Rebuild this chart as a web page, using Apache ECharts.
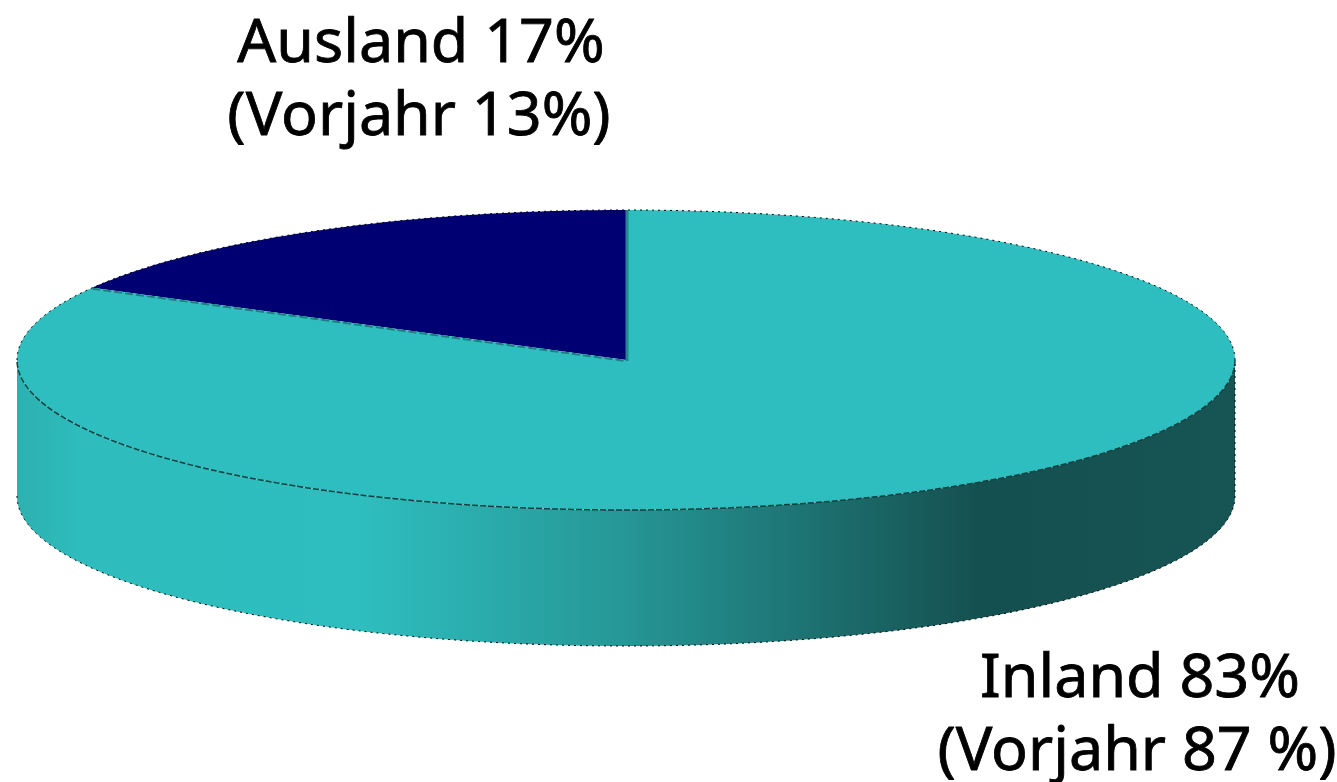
<!DOCTYPE html>
<html>
<head>
<meta charset="utf-8">
<style>
  html, body { margin: 0; padding: 0; background: #fff; }
  #chart { width: 1337px; height: 782px; }
</style>
<script src="https://cdn.jsdelivr.net/npm/echarts@6/dist/echarts.min.js"></script>
</head>
<body>
<div id="chart"></div>
<script>
// Anteil Umsatz, aus dem Bild gelesen
var categories = ['Ausland', 'Inland'];
var values = [17, 83];
var prevValues = [13, 87];
var prevSuffix = ['%', ' %'];
var colors = ['#000073', '#2fbebf'];

// ellipse of the disc
var disc = { cx: 626, cy: 360, rx: 609, ry: 150, depth: 136 };
// where the two text blocks go
var labelPos = [
  { x: 421, y: 45, x2: 419, y2: 118 },
  { x: 1140, y: 680, x2: 1137, y2: 753 }
];
var FONT = '61px "Noto Sans"';

var total = values[0] + values[1];

// angle: 0 = 12 o'clock, counted clockwise
function pt(deg, dy) {
  var a = deg * Math.PI / 180;
  return [disc.cx + disc.rx * Math.sin(a), disc.cy - disc.ry * Math.cos(a) + (dy || 0)];
}
function arc(from, to, dy) {
  var pts = [], n = Math.ceil(Math.abs(to - from) * 2);
  for (var i = 0; i <= n; i++) pts.push(pt(from + (to - from) * i / n, dy));
  return pts;
}

function renderItem(params, api) {
  var idx = params.dataIndex;
  var val = api.value(0);
  var prev = api.value(1);
  // Ausland runs counter clockwise from the top, Inland fills the rest
  var start = idx === 0 ? -val / total * 360 : 0;
  var end = idx === 0 ? 0 : val / total * 360;
  var topPts = [[disc.cx, disc.cy]].concat(arc(start, end));
  var children = [];

  if (idx === 1) {
    // side wall, only the front half can be seen
    var side = arc(90, 270).concat(arc(270, 90, disc.depth));
    children.push({
      type: 'polygon',
      shape: { points: side },
      style: {
        fill: new echarts.graphic.LinearGradient(disc.cx - disc.rx, 0, disc.cx + disc.rx, 0, [
          { offset: 0, color: '#2db0b0' },
          { offset: 0.05, color: '#2ebcbc' },
          { offset: 0.28, color: '#2fbebf' },
          { offset: 0.5, color: '#269696' },
          { offset: 0.79, color: '#155050' },
          { offset: 1, color: '#175454' }
        ], true)
      }
    });
  }

  children.push({
    type: 'polygon',
    shape: { points: topPts },
    style: { fill: colors[idx] }
  });

  if (idx === 1) {
    // rim between top and wall
    children.push({
      type: 'polyline',
      shape: { points: arc(90, 270) },
      style: { fill: null, stroke: '#123f3f', lineWidth: 1.5, lineDash: [6, 2] }
    });
    // rough outline of the disc
    children.push({
      type: 'polyline',
      shape: { points: [].concat(arc(270, 450), arc(90, 270, disc.depth)) },
      style: { fill: null, stroke: '#000', lineWidth: 1, lineDash: [2, 4] }
    });
    // edges of the dark slice, they lie on the teal side
    var cut = -values[0] / total * 360;
    children.push({
      type: 'polyline',
      shape: { points: [pt(cut, 1), [disc.cx, disc.cy + 1]] },
      style: { fill: null, stroke: '#1f7f80', lineWidth: 2, lineDash: [8, 3] }
    });
    children.push({
      type: 'polyline',
      shape: { points: [[disc.cx + 1, disc.cy + 1], [disc.cx + 1, disc.cy - disc.ry]] },
      style: { fill: null, stroke: '#22898a', lineWidth: 3 }
    });
  }

  var p = labelPos[idx];
  children.push({
    type: 'text',
    style: {
      text: categories[idx] + ' ' + val + '%',
      x: p.x, y: p.y, font: FONT, fill: '#000', stroke: '#000', lineWidth: 0.8,
      align: 'center', verticalAlign: 'middle'
    }
  });
  children.push({
    type: 'text',
    style: {
      text: '(Vorjahr ' + prev + prevSuffix[idx] + ')',
      x: p.x2, y: p.y2, font: FONT, fill: '#000', stroke: '#000', lineWidth: 0.8,
      align: 'center', verticalAlign: 'middle'
    }
  });
  return { type: 'group', children: children };
}

var chart = echarts.init(document.getElementById('chart'));
chart.setOption({
  animation: false,
  backgroundColor: '#fff',
  series: [{
    type: 'custom',
    coordinateSystem: 'none',
    renderItem: renderItem,
    data: categories.map(function (c, i) {
      return { name: c, value: [values[i], prevValues[i]] };
    })
  }]
});
</script>
</body>
</html>
